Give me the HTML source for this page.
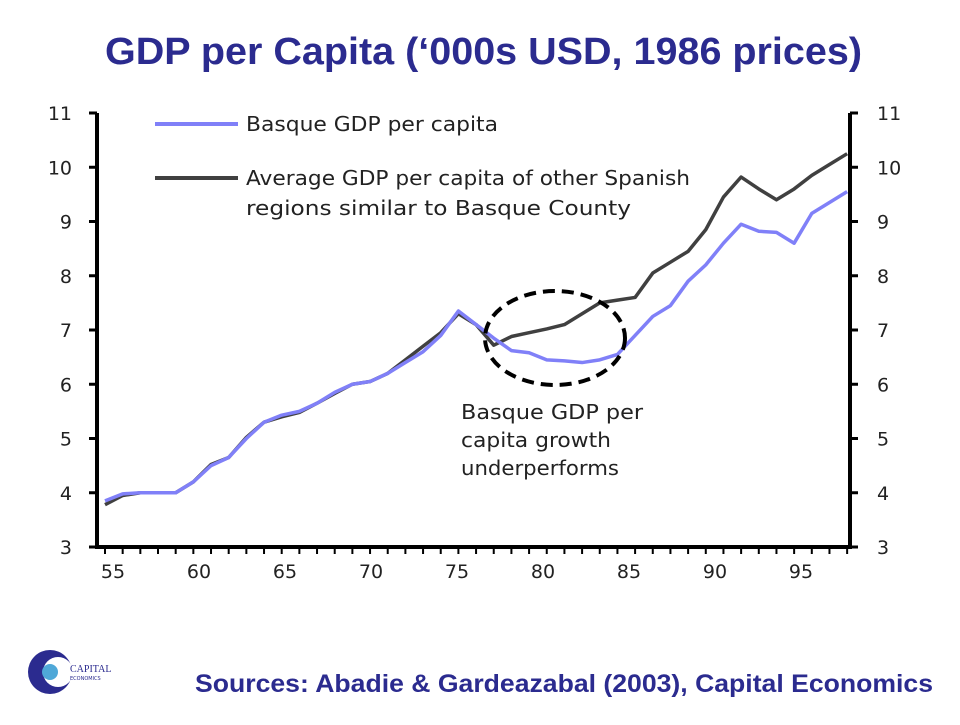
<!DOCTYPE html>
<html><head><meta charset="utf-8"><style>
body{margin:0;background:#fff;width:960px;height:720px;overflow:hidden;font-family:"Liberation Sans",sans-serif}
svg text{font-family:"DejaVu Sans","Liberation Sans",sans-serif}
</style></head><body>
<svg width="960" height="720">
<text x="105" y="64" textLength="757" lengthAdjust="spacingAndGlyphs" font-size="38" font-weight="bold" fill="#2b2b8f" style="font-family:'Liberation Sans',sans-serif">GDP per Capita (‘000s USD, 1986 prices)</text>
<g id="axes"></g><g id="lines"></g>
<g>
<line x1="155" y1="124" x2="238" y2="124" stroke="#8080f8" stroke-width="4"/>
<text x="246" y="131" font-size="20" textLength="252" lengthAdjust="spacingAndGlyphs" fill="#222">Basque GDP per capita</text>
<line x1="155" y1="178" x2="238" y2="178" stroke="#404040" stroke-width="4"/>
<text x="246" y="185" font-size="20" textLength="444" lengthAdjust="spacingAndGlyphs" fill="#222">Average GDP per capita of other Spanish</text>
<text x="246" y="215" font-size="20" textLength="385" lengthAdjust="spacingAndGlyphs" fill="#222">regions similar to Basque County</text>
</g>
<ellipse cx="555" cy="338" rx="70" ry="47" fill="none" stroke="#000" stroke-width="4" stroke-dasharray="12,7"/>
<g font-size="20" fill="#222">
<text x="461" y="419" textLength="182" lengthAdjust="spacingAndGlyphs">Basque GDP per</text><text x="461" y="447" textLength="150" lengthAdjust="spacingAndGlyphs">capita growth</text><text x="461" y="475" textLength="158" lengthAdjust="spacingAndGlyphs">underperforms</text></g>
<g>
<circle cx="50" cy="672" r="22" fill="#2b2b8f"/><circle cx="58" cy="672" r="15" fill="#fff"/><circle cx="50" cy="672" r="8" fill="#4fa8d8"/>
<text x="70" y="672" font-size="10" fill="#2b2b8f" style="font-family:'Liberation Serif',serif">CAPITAL</text>
<text x="70" y="680" font-size="5" fill="#2b2b8f">ECONOMICS</text></g>
<text x="195" y="692" textLength="738" lengthAdjust="spacingAndGlyphs" font-size="25" font-weight="bold" fill="#2b2b8f" style="font-family:'Liberation Sans',sans-serif">Sources: Abadie &amp; Gardeazabal (2003), Capital Economics</text>
</svg>
<script>
const years=[55,56,57,58,59,60,61,62,63,64,65,66,67,68,69,70,71,72,73,74,75,76,77,78,79,80,81,82,83,84,85,86,87,88,89,90,91,92,93,94,95,96,97];
const basque=[3.85,3.98,4.0,4.0,4.0,4.2,4.5,4.65,5.0,5.3,5.43,5.5,5.65,5.85,6.0,6.05,6.2,6.4,6.6,6.9,7.35,7.1,6.85,6.62,6.58,6.45,6.43,6.4,6.45,6.55,6.9,7.25,7.45,7.9,8.2,8.6,8.95,8.82,8.8,8.6,9.15,9.35,9.55];
const synthetic=[3.78,3.95,4.0,4.0,4.0,4.2,4.52,4.65,5.02,5.3,5.4,5.48,5.65,5.83,6.0,6.05,6.2,6.45,6.7,6.95,7.3,7.1,6.72,6.88,6.95,7.02,7.1,7.3,7.5,7.55,7.6,8.05,8.25,8.45,8.85,9.45,9.82,9.6,9.4,9.6,9.85,10.05,10.25];
const yTicks=[3,4,5,6,7,8,9,10,11];
const xTicks=[55,60,65,70,75,80,85,90,95];
const NS="http://www.w3.org/2000/svg";
const X=v=>105+(v-55)*17.67, Y=v=>547-(v-3)*54.25, XL=v=>113+(v-55)*17.2;
function mk(t,a,p){const e=document.createElementNS(NS,t);for(const k in a)e.setAttribute(k,a[k]);p.appendChild(e);return e;}
const ax=document.getElementById('axes');
mk('path',{d:`M97 ${Y(11)}V${Y(3)}H850V${Y(11)}`,fill:'none',stroke:'#000','stroke-width':4},ax);
yTicks.forEach(t=>{
 mk('line',{x1:89,x2:97,y1:Y(t),y2:Y(t),stroke:'#000','stroke-width':3},ax);
 mk('line',{x1:850,x2:858,y1:Y(t),y2:Y(t),stroke:'#000','stroke-width':3},ax);
 const a=mk('text',{x:72,y:Y(t)+7,'text-anchor':'end','font-size':19,fill:'#222'},ax);a.textContent=t;
 
 
 const b=mk('text',{x:877,y:Y(t)+7,'font-size':19,fill:'#222'},ax);b.textContent=t;
 
 
});
years.forEach(y=>{mk('line',{x1:X(y),x2:X(y),y1:547,y2:554,stroke:'#000','stroke-width':2},ax);});
xTicks.forEach(t=>{const a=mk('text',{x:XL(t),y:578,'text-anchor':'middle','font-size':19,fill:'#222'},ax);a.textContent=t;
 
 });
const ln=document.getElementById('lines');
function line(vals,col,name){const p=mk('polyline',{points:years.map((y,i)=>X(y)+','+Y(vals[i])).join(' '),fill:'none',stroke:col,'stroke-width':3.5,'stroke-linejoin':'round'},ln);
 
 }
line(synthetic,'#404040','synthetic-line');
line(basque,'#8080f8','basque-line');
</script>
</body></html>
